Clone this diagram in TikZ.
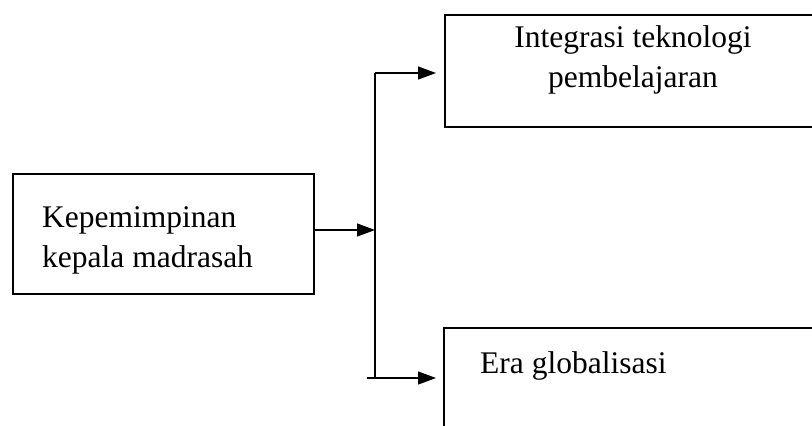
\documentclass[tikz,border=0pt]{standalone}
\usepackage{fontspec}
\setmainfont{Liberation Serif}
\usetikzlibrary{arrows.meta,calc}
\tikzset{
  box/.style={draw=black, line width=2pt, rectangle, inner sep=0pt},
  lbl/.style={inner sep=0pt, font=\fontsize{31.5}{40}\selectfont},
  arr/.style={line width=1.2pt, -{Triangle[length=18pt,width=13pt]}},
  conn/.style={line width=1.2pt}
}
\begin{document}
\begin{tikzpicture}[x=1pt,y=-1pt]
\useasboundingbox (0,0) rectangle (812,426);
\clip (0,0) rectangle (812,426);
% boxes
\node[box, anchor=north west, minimum width=301pt, minimum height=120pt] (lead) at (12,173) {};
\node[box, anchor=north west, minimum width=380pt, minimum height=112pt] (tech) at (444,14) {};
\node[box, anchor=north west, minimum width=380pt, minimum height=130pt] (era) at (443,327) {};
% texts
\node[lbl, align=left, anchor=west] (leadtxt) at (42,240) {Kepemimpinan\\kepala madrasah};
\node[lbl, align=center] (techtxt) at (633,60) {Integrasi teknologi\\pembelajaran};
\node[lbl, anchor=base west] (eratxt) at (480,373) {Era globalisasi};
% connectors
\coordinate (j) at (375,230);
\coordinate (t) at (375,73);
\coordinate (b) at (375,378);
\coordinate (bs) at (367,378);
\draw[arr] (lead.east |- j) -- (j);
\draw[conn] (t) -- (b);
\draw[arr, shorten >=8pt] (t) -- (t -| tech.west);
\draw[arr, shorten >=7pt] (bs) -- (bs -| era.west);
\end{tikzpicture}
\end{document}
